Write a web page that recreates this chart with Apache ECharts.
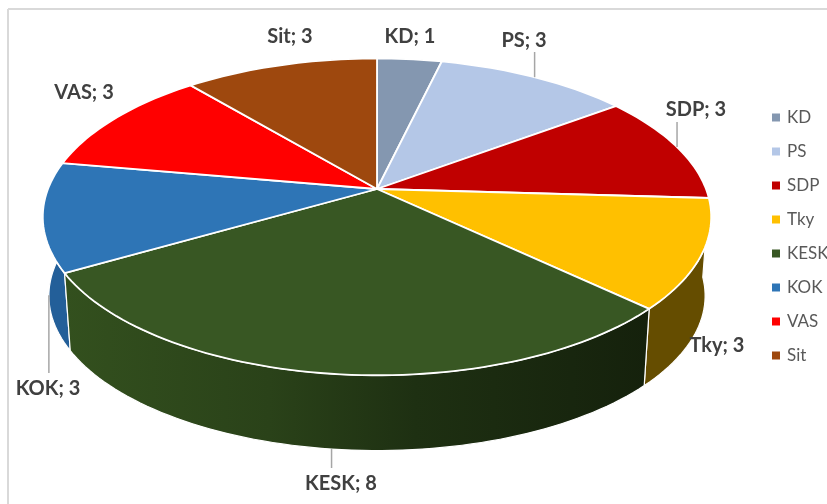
<!DOCTYPE html>
<html>
<head>
<meta charset="utf-8">
<style>html,body{margin:0;padding:0;background:#fff}#c{width:827px;height:504px}</style>
<script src="https://cdn.jsdelivr.net/npm/echarts@6/dist/echarts.min.js"></script>
</head>
<body>
<div id="c"></div>
<script>
const categories = ['KD', 'PS', 'SDP', 'Tky', 'KESK', 'KOK', 'VAS', 'Sit'];
const seats = [1, 3, 3, 3, 8, 3, 3, 3];
const topColors = ['#8497b0', '#b4c7e7', '#c00000', '#ffc000', '#385723', '#2e75b6', '#ff0000', '#9e480e'];
const wallStops = [
  ['#4f5a69', '#4f5a69', '#4f5a69', '#4f5a69'],
  ['#6c778a', '#6c778a', '#6c778a', '#6c778a'],
  ['#730000', '#730000', '#730000', '#730000'],
  ['#654d00', '#654d00', '#654d00', '#654d00'],
  ['#33501e', '#2a4219', '#1e3012', '#15210c'],
  ['#235f99', '#235f99', '#235f99', '#235f99'],
  ['#990000', '#990000', '#990000', '#990000'],
  ['#5e2b08', '#5e2b08', '#5e2b08', '#5e2b08']
];
const wallOffsets = [0, 0.35, 0.6, 1];

// Where each data label sits, and where its leader line stops (null = no leader)
const labelCentres = {
  KD: [410, 37], PS: [524, 41], SDP: [696, 110], Tky: [717, 346],
  KESK: [341, 484], KOK: [48, 389], VAS: [84, 93], Sit: [290, 37]
};
const leaderEnd = { PS: 52, SDP: 122, KESK: 468, KOK: 373 };

// Perspective rings of the tilted disc
const topRing = { cx: 377, cy: 189, rx: 329, ry: 153.5 };
const bottomRing = { cx: 377, cy: 268.5, rx: 323, ry: 150 };
const persp = 0.176;

const total = seats.reduce((a, b) => a + b, 0);
const starts = [];
seats.reduce((acc, v, i) => { starts[i] = acc; return acc + v; }, 0);
const angleOf = units => units / total * Math.PI * 2;

function project(ring, a) {
  const u = Math.sin(a), v = -Math.cos(a), w = 1 - persp * v;
  return [ring.cx + ring.rx * u / w, ring.cy + ring.ry * v / w];
}
function arc(ring, a0, a1) {
  const n = Math.max(2, Math.ceil((a1 - a0) / (Math.PI / 120)));
  const pts = [];
  for (let i = 0; i <= n; i++) pts.push(project(ring, a0 + (a1 - a0) * i / n));
  return pts;
}
function sliceAngles(i) {
  return [angleOf(starts[i]), angleOf(starts[i] + seats[i])];
}

function renderWall(i) {
  return function () {
    const [a0, a1] = sliceAngles(i);
    const pts = arc(topRing, a0, a1).concat(arc(bottomRing, a0, a1).reverse());
    return {
      type: 'polygon',
      shape: { points: pts },
      style: {
        fill: new echarts.graphic.LinearGradient(0, 0, 1, 0,
          wallOffsets.map((offset, s) => ({ offset, color: wallStops[i][s] }))),
        stroke: '#fff',
        lineWidth: 1.2
      }
    };
  };
}

function renderTop(i) {
  return function () {
    const [a0, a1] = sliceAngles(i);
    const name = categories[i];
    const children = [{
      type: 'polygon',
      shape: { points: [[topRing.cx, topRing.cy]].concat(arc(topRing, a0, a1)) },
      style: { fill: topColors[i], stroke: '#fff', lineWidth: 1.8, lineJoin: 'round' }
    }];
    const mid = (a0 + a1) / 2;
    if (leaderEnd[name] !== undefined) {
      const ring = Math.cos(mid) < 0 ? bottomRing : topRing;
      const p = project(ring, mid);
      children.push({
        type: 'line',
        z2: 5,
        shape: { x1: p[0], y1: p[1], x2: p[0], y2: leaderEnd[name] },
        style: { stroke: '#a6a6a6', lineWidth: 1.5 }
      });
    }
    const c = labelCentres[name];
    children.push({
      type: 'text',
      z2: 6,
      style: {
        x: c[0], y: c[1],
        text: name + '; ' + seats[i],
        align: 'center', verticalAlign: 'middle',
        font: 'bold 20px Lato, "Open Sans", sans-serif',
        fill: '#404040'
      }
    });
    return { type: 'group', children };
  };
}

// Walls are painted back to front, so the nearest wall wins
const wallOrder = categories.map((_, i) => i).sort((p, q) => {
  const mp = angleOf(starts[p] + seats[p] / 2), mq = angleOf(starts[q] + seats[q] / 2);
  return Math.cos(mq) - Math.cos(mp);
});

const series = [];
categories.forEach((name, i) => {
  series.push({
    type: 'custom', name, z: 3, silent: true,
    coordinateSystem: 'none',
    itemStyle: { color: topColors[i] },
    renderItem: renderTop(i),
    data: [seats[i]]
  });
});
wallOrder.forEach(i => {
  series.push({
    type: 'custom', name: categories[i], z: 2, silent: true,
    coordinateSystem: 'none',
    itemStyle: { color: topColors[i] },
    renderItem: renderWall(i),
    data: [seats[i]]
  });
});

const chart = echarts.init(document.getElementById('c'), null, { renderer: 'canvas' });
chart.setOption({
  animation: false,
  backgroundColor: '#fff',
  legend: {
    data: categories,
    orient: 'vertical',
    left: 772,
    top: 109,
    itemWidth: 8,
    itemHeight: 8,
    itemGap: 17,
    icon: 'rect',
    selectedMode: false,
    padding: 0,
    textStyle: {
      fontFamily: 'Lato, "Open Sans", sans-serif',
      fontSize: 17,
      lineHeight: 16,
      color: '#595959',
      padding: [0, 0, 0, 2]
    }
  },
  graphic: [
    { type: 'line', shape: { x1: 8, y1: 9, x2: 8, y2: 504 }, style: { stroke: '#d9d9d9', lineWidth: 2 }, silent: true },
    { type: 'line', shape: { x1: 8, y1: 9, x2: 827, y2: 9 }, style: { stroke: '#d9d9d9', lineWidth: 2 }, silent: true }
  ],
  series
});
</script>
</body>
</html>
